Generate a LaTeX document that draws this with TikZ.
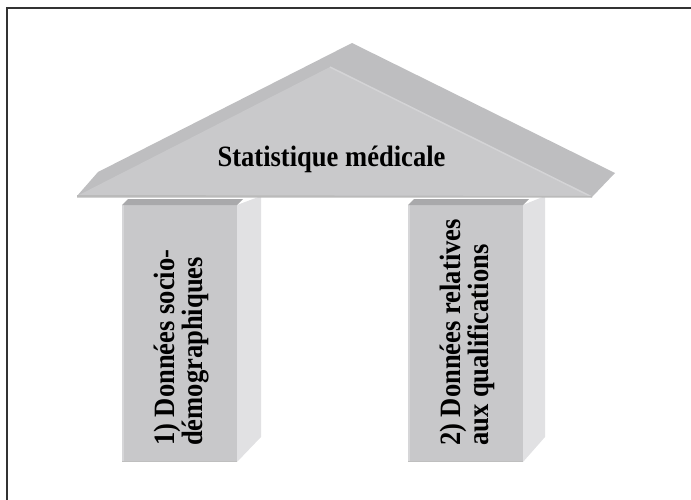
\documentclass[tikz,border=0pt]{standalone}
\usepackage{fontspec}
\setmainfont{Liberation Serif}
\newfontfamily\labfont{Liberation Serif}[FakeStretch=0.9]
\definecolor{roofback}{HTML}{BEBEC0}
\definecolor{rooffront}{HTML}{C9C9CB}
\definecolor{roofhl}{HTML}{D4D4D6}
\definecolor{pilfront}{HTML}{C8C8CA}
\definecolor{piltop}{HTML}{A9A9AB}
\definecolor{pilside}{HTML}{E1E1E3}
\definecolor{pilhl}{HTML}{D6D6D8}
\tikzset{
  lab/.style={inner sep=0pt, font=\labfont\bfseries\fontsize{29.5}{28}\selectfont, text=black},
  vlab/.style={lab, rotate=90, anchor=base west},
}
\begin{document}
\begin{tikzpicture}[x=1pt,y=-1pt]
\useasboundingbox (0,0) rectangle (691,500);
% frame (top and left edges visible)
\draw[line width=1.6pt, black!80] (7,501) -- (7,8) -- (692,8);
% left pillar
\fill[pilside] (237,205) -- (237,462) -- (261,437) -- (261,196) -- cycle;
\fill[pilfront] (122,205) rectangle (237,462);
\fill[pilhl] (122,205) rectangle (124,462);
\fill[piltop] (122,205) -- (128,199) -- (243,199) -- (237,205) -- cycle;
\fill[black!25] (122,460.5) rectangle (237,462);
% right pillar
\fill[pilside] (523,205) -- (523,462) -- (545,437) -- (545,196) -- cycle;
\fill[pilfront] (408,205) rectangle (523,462);
\fill[pilhl] (408,205) rectangle (410,462);
\fill[piltop] (408,205) -- (414,199) -- (529,199) -- (523,205) -- cycle;
\fill[black!25] (408,460.5) rectangle (523,462);
% roof
\fill[roofback] (77,196) -- (98,172) -- (352,43) -- (615,173) -- (592,197) -- cycle;
\fill[rooffront] (77,196) -- (330,67) -- (592,197) -- cycle;
\draw[roofhl, line width=1.5pt] (330,67) -- (592,197);
\fill[black!27] (77,195) -- (592,196) -- (592,197.5) -- (77,197.5) -- cycle;
% labels
\node[lab, anchor=base] (roof) at (331.5,167) {Statistique médicale};
\node[vlab] (l1) at (174,446) {1) Données socio-};
\node[vlab] (l2) at (202,446) {démographiques};
\node[vlab] (r1) at (460,446) {2) Données relatives};
\node[vlab] (r2) at (488,446) {aux qualifications};
\end{tikzpicture}
\end{document}
